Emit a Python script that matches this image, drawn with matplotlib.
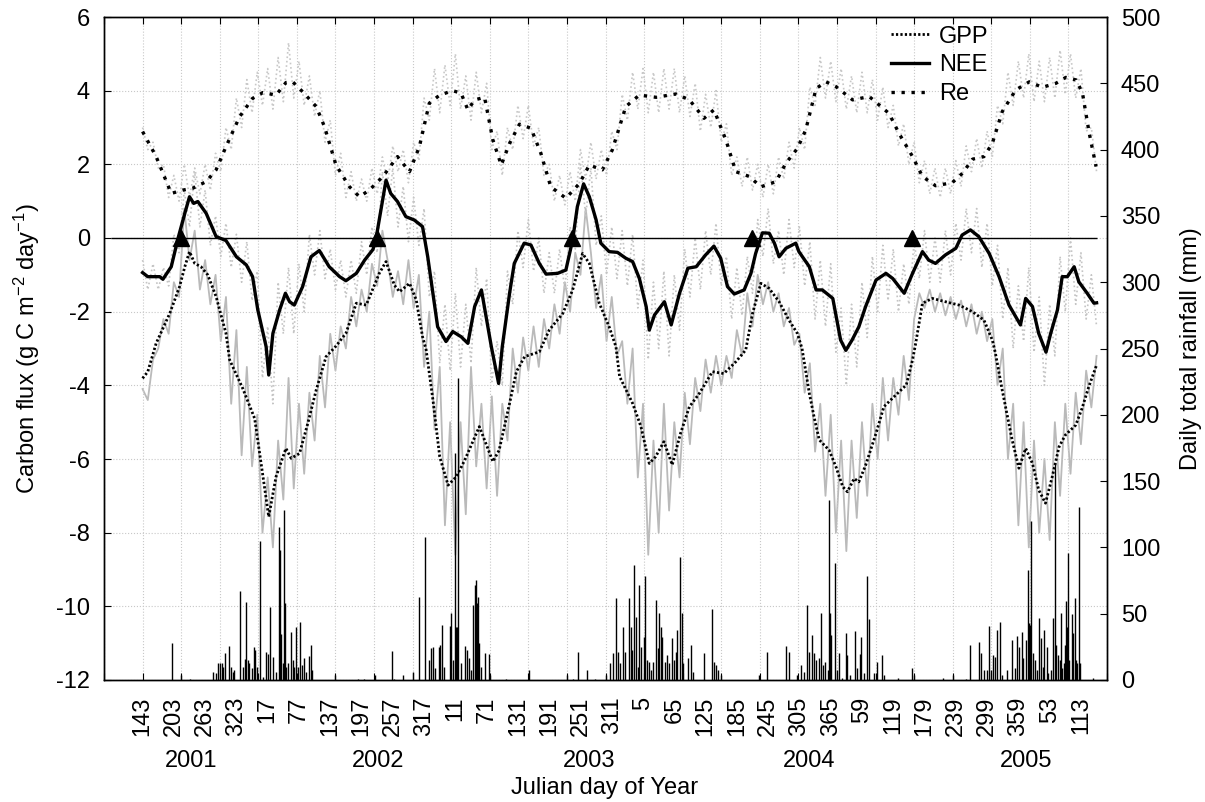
import numpy as np
import matplotlib
matplotlib.use("Agg")
import matplotlib.pyplot as plt
from matplotlib.lines import Line2D
from matplotlib.ticker import NullFormatter

plt.rcParams["font.family"] = ["Liberation Sans", "DejaVu Sans"]
plt.rcParams["mathtext.fontset"] = "custom"
plt.rcParams["mathtext.rm"] = "Liberation Sans"
plt.rcParams["mathtext.it"] = "Liberation Sans:italic"
plt.rcParams["axes.unicode_minus"] = False

# DATA  (x = day index, 0 = Julian day 143 of 2001)
# smoothed series, (day, flux g C m-2 day-1)
re_pts = [(0, 2.89), (26, 2.21), (55, 1.21), (77, 1.30), (96, 1.35), (122, 1.53), (141, 1.85), (160, 2.48),
          (186, 3.29), (211, 3.79), (231, 3.95), (256, 3.88), (275, 4.22), (288, 4.24), (307, 3.97), (333, 3.57),
          (349, 3.02), (371, 1.98), (397, 1.39), (416, 1.12), (435, 1.30), (461, 1.67), (489, 2.21), (512, 1.80),
          (531, 2.48), (550, 3.66), (570, 3.88), (595, 4.00), (611, 3.93), (624, 3.48), (637, 3.75), (656, 3.82),
          (672, 2.66), (688, 1.98), (704, 2.57), (723, 3.09), (745, 2.98), (764, 2.30), (783, 1.39), (812, 1.08),
          (838, 1.48), (857, 1.98), (882, 1.85), (901, 2.39), (927, 3.57), (953, 3.88), (985, 3.82), (1023, 3.91),
          (1049, 3.75), (1077, 3.25), (1096, 3.48), (1119, 2.66), (1138, 1.80), (1164, 1.67), (1186, 1.39),
          (1215, 1.53), (1234, 2.03), (1256, 2.43), (1272, 2.93), (1292, 4.06), (1311, 4.24), (1330, 4.11),
          (1362, 3.75), (1394, 3.84), (1413, 3.61), (1432, 3.38), (1451, 2.84), (1477, 2.21), (1496, 1.67),
          (1521, 1.42), (1553, 1.50), (1573, 1.76), (1592, 2.14), (1614, 2.21), (1630, 2.57), (1649, 3.43),
          (1675, 4.02), (1701, 4.24), (1726, 4.09), (1752, 4.20), (1771, 4.36), (1791, 4.29), (1803, 3.93),
          (1816, 2.84), (1829, 1.94)]

nee_pts = [(0, -0.94), (10, -1.05), (33, -1.05), (39, -1.12), (55, -0.78), (68, -0.01), (81, 0.67), (90, 1.12),
           (98, 0.94), (106, 0.99), (122, 0.67), (141, 0.04), (160, -0.07), (180, -0.51), (199, -0.73),
           (211, -1.05), (221, -1.95), (237, -2.95), (242, -3.72), (250, -2.59), (263, -1.95), (274, -1.50),
           (282, -1.73), (291, -1.82), (307, -1.32), (323, -0.51), (339, -0.34), (358, -0.78), (378, -1.05),
           (390, -1.16), (410, -0.96), (426, -0.60), (442, -0.31), (448, 0.0), (467, 1.57), (476, 1.21),
           (489, 0.99), (505, 0.58), (521, 0.49), (537, 0.31), (547, -0.51), (557, -1.50), (566, -2.41),
           (582, -2.81), (595, -2.54), (611, -2.68), (624, -2.86), (637, -1.86), (650, -1.41), (659, -2.14),
           (669, -2.95), (683, -3.95), (690, -2.95), (704, -1.50), (713, -0.69), (732, -0.14), (745, -0.19),
           (761, -0.69), (774, -0.98), (796, -0.96), (812, -0.87), (825, -0.05), (834, 0.85), (846, 1.47),
           (857, 1.12), (870, 0.49), (879, -0.14), (895, -0.37), (911, -0.39), (927, -0.55), (940, -0.64),
           (953, -1.10), (966, -1.86), (972, -2.50), (982, -2.09), (1001, -1.73), (1014, -2.36), (1030, -1.50),
           (1046, -0.82), (1062, -0.78), (1080, -0.46), (1096, -0.22), (1109, -0.55), (1122, -1.32),
           (1135, -1.52), (1154, -1.41), (1167, -0.96), (1176, -0.42), (1189, 0.14), (1202, 0.13), (1212, -0.14),
           (1221, -0.51), (1234, -0.28), (1253, -0.14), (1259, -0.37), (1279, -0.78), (1292, -1.41),
           (1304, -1.41), (1324, -1.64), (1339, -2.77), (1349, -3.05), (1361, -2.77), (1374, -2.41),
           (1387, -1.86), (1407, -1.14), (1426, -0.96), (1439, -1.10), (1461, -1.50), (1477, -0.96),
           (1496, -0.37), (1508, -0.60), (1521, -0.69), (1540, -0.46), (1560, -0.28), (1572, 0.08), (1588, 0.22),
           (1604, 0.04), (1624, -0.42), (1643, -1.05), (1662, -1.82), (1684, -2.36), (1694, -1.64),
           (1707, -1.86), (1719, -2.59), (1733, -3.10), (1742, -2.59), (1755, -1.95), (1764, -1.05),
           (1774, -1.05), (1787, -0.78), (1796, -1.19), (1812, -1.50), (1825, -1.77), (1830, -1.76)]

gpp_pts = [(0, -3.81), (10, -3.63), (26, -2.86), (52, -2.05), (71, -1.32), (81, -0.78), (90, -0.37), (100, -0.69),
           (112, -0.78), (125, -1.00), (141, -1.59), (160, -2.59), (167, -3.31), (192, -4.08), (215, -4.90),
           (231, -6.48), (242, -7.57), (256, -6.48), (275, -5.71), (285, -5.98), (301, -5.85), (317, -5.03),
           (333, -4.13), (352, -3.22), (370, -2.95), (390, -2.59), (410, -1.77), (429, -1.82), (454, -0.96),
           (467, -0.64), (483, -1.28), (493, -1.46), (512, -1.23), (525, -1.68), (537, -2.68), (544, -3.04),
           (557, -4.40), (570, -5.94), (586, -6.71), (602, -6.48), (618, -6.03), (646, -5.12), (672, -6.07),
           (684, -5.76), (704, -4.49), (717, -3.63), (733, -3.22), (761, -3.09), (780, -2.50), (806, -2.05),
           (825, -1.41), (844, -0.42), (857, -0.69), (876, -1.77), (895, -2.41), (908, -2.95), (915, -3.76),
           (940, -4.49), (956, -5.12), (972, -6.12), (984, -5.94), (1000, -5.53), (1016, -6.16), (1032, -5.30),
           (1049, -4.58), (1068, -4.22), (1093, -3.63), (1115, -3.68), (1138, -3.36), (1157, -3.04),
           (1170, -2.05), (1186, -1.23), (1202, -1.37), (1221, -1.73), (1240, -2.23), (1256, -2.59),
           (1265, -3.00), (1279, -4.22), (1288, -4.85), (1298, -5.48), (1317, -5.76), (1330, -6.21),
           (1343, -6.75), (1352, -6.89), (1365, -6.53), (1374, -6.62), (1387, -6.17), (1407, -5.30),
           (1422, -4.58), (1445, -4.26), (1465, -3.99), (1477, -3.31), (1483, -2.86), (1496, -1.77),
           (1515, -1.64), (1540, -1.73), (1566, -1.82), (1592, -2.00), (1614, -2.23), (1630, -2.77),
           (1636, -3.13), (1649, -4.13), (1668, -5.48), (1681, -6.25), (1694, -5.71), (1707, -6.12),
           (1719, -6.84), (1732, -7.20), (1745, -6.48), (1758, -5.67), (1770, -5.35), (1790, -5.08),
           (1802, -4.63), (1815, -4.04), (1830, -3.45)]

# daily (raw) fluxes, one value every 10 days from day index 0
raw_gpp = [-4.1, -4.4, -3.3, -3.0, -2.2, -2.6, -1.2, -1.6, 0.8, -0.6,
           0.2, -1.4, -0.6, -1.8, -1.0, -2.8, -1.6, -4.5, -2.5, -5.9,
           -3.5, -6.2, -4.8, -8.0, -6.5, -8.4, -5.5, -7.1, -3.8, -6.8,
           -4.5, -6.4, -4.2, -5.5, -3.2, -4.6, -2.6, -3.6, -2.4, -3.0,
           -1.6, -2.4, -1.4, -2.0, -0.7, -1.3, 0.2, -0.6, -1.6, -0.9,
           -1.8, -0.6, -1.9, -1.0, -3.5, -2.0, -5.2, -3.5, -7.8, -5.0,
           -8.6, -5.0, -7.5, -3.5, -6.2, -4.5, -6.8, -4.3, -7.0, -4.5,
           -5.5, -3.0, -4.2, -2.7, -3.6, -2.4, -3.5, -2.2, -3.0, -1.8,
           -2.6, -1.2, -2.0, -0.4, -1.0, 0.8, -0.4, -1.9, -1.0, -2.8,
           -1.6, -3.2, -2.8, -4.5, -3.0, -6.5, -4.5, -8.6, -5.5, -8.0,
           -4.5, -7.4, -5.0, -6.5, -4.2, -5.6, -3.8, -4.7, -3.3, -4.2,
           -3.2, -4.0, -3.2, -3.8, -2.5, -3.2, -1.5, -2.4, -1.0, -1.8,
           -1.2, -2.0, -1.5, -2.4, -1.9, -2.9, -2.6, -4.2, -3.4, -5.8,
           -4.5, -7.0, -4.8, -8.0, -5.5, -8.5, -5.5, -7.6, -5.0, -7.0,
           -4.5, -6.0, -3.8, -5.5, -3.8, -4.8, -3.2, -4.4, -2.2, -1.5,
           -1.9, -1.4, -2.0, -1.5, -2.1, -1.6, -2.2, -1.7, -2.4, -1.8,
           -2.6, -2.0, -2.8, -2.2, -4.0, -3.0, -6.0, -4.5, -7.8, -5.0,
           -8.4, -5.5, -8.0, -6.0, -8.2, -5.0, -7.0, -4.5, -6.4, -4.2,
           -5.6, -3.6, -4.6, -3.2]

raw_nee = [-0.6, -1.4, -0.7, -1.4, -0.8, -1.3, 0.1, -0.4, 1.3, 0.3,
           1.8, 0.3, 1.3, -0.2, 0.6, -0.5, 0.4, -0.8, 0.1, -1.2,
           -0.1, -1.7, -0.9, -3.8, -2.4, -4.5, -1.2, -2.6, -0.8, -2.6,
           -0.7, -2.0, 0.1, -1.0, 0.2, -1.1, -0.3, -1.4, -0.6, -1.6,
           -0.6, -1.5, -0.1, -1.0, 0.3, -0.4, 1.8, 0.6, 1.9, 0.3,
           1.4, -0.1, 1.1, -0.2, 0.8, -1.6, -0.9, -3.4, -1.8, -3.6,
           -1.5, -3.5, -1.8, -3.4, -0.8, -2.4, -1.1, -3.9, -2.8, -4.0,
           -0.9, -1.8, 0.2, -0.8, 0.5, -0.9, 0.0, -1.5, -0.4, -1.5,
           -0.3, -1.4, 0.3, -0.3, 2.0, 0.6, 1.9, -0.2, 0.6, -1.0,
           0.3, -1.1, 0.2, -1.3, 0.1, -1.9, -0.6, -3.3, -1.2, -3.0,
           -0.9, -3.2, -1.0, -2.5, -0.3, -1.6, 0.0, -1.4, 0.2, -1.0,
           0.4, -1.3, -0.5, -2.2, -0.8, -2.1, -0.5, -1.5, 0.5, -0.5,
           0.8, -0.7, 0.2, -1.0, 0.5, -0.8, 0.3, -1.3, -0.1, -2.2,
           -0.6, -2.4, -0.7, -3.1, -1.9, -4.0, -1.8, -3.5, -1.2, -2.7,
           -0.5, -2.0, -0.2, -1.7, -0.3, -2.0, -0.7, -1.8, -0.1, -1.1,
           0.2, -1.2, 0.0, -1.2, 0.2, -1.0, 0.4, -0.6, 0.8, -0.4,
           0.8, -0.8, 0.4, -1.3, -0.2, -2.2, -0.8, -3.0, -1.3, -2.8,
           -0.8, -3.1, -1.6, -4.0, -1.8, -3.2, -0.5, -2.0, 0.0, -1.8,
           -0.4, -2.2, -1.0, -2.4]

raw_re = [3.0, 2.4, 2.6, 1.9, 2.0, 1.1, 1.7, 1.0, 2.0, 1.1,
          1.9, 1.2, 2.0, 1.3, 2.3, 1.8, 3.0, 2.4, 3.8, 3.0,
          4.3, 3.4, 4.5, 3.6, 4.6, 3.5, 4.9, 3.7, 5.3, 3.8,
          4.8, 3.6, 4.4, 3.3, 4.0, 2.6, 3.2, 1.7, 2.3, 1.1,
          1.8, 1.0, 1.6, 1.0, 1.9, 1.2, 2.2, 1.5, 2.5, 1.8,
          2.4, 1.5, 2.6, 2.1, 3.8, 3.2, 4.6, 3.4, 4.7, 3.6,
          5.0, 3.5, 4.4, 3.2, 4.5, 3.4, 4.2, 2.4, 2.9, 1.7,
          3.0, 2.4, 3.6, 2.7, 3.6, 2.5, 3.0, 1.7, 2.0, 1.0,
          1.7, 0.9, 1.8, 1.0, 2.4, 1.6, 2.6, 1.6, 2.4, 1.7,
          2.9, 2.4, 3.9, 3.2, 4.5, 3.5, 4.6, 3.4, 4.5, 3.4,
          4.6, 3.5, 4.6, 3.4, 4.4, 3.3, 4.2, 2.9, 3.9, 3.0,
          4.0, 2.6, 3.1, 1.7, 2.2, 1.4, 2.2, 1.3, 2.0, 1.1,
          2.0, 1.2, 2.2, 1.6, 2.6, 1.9, 3.0, 2.4, 4.1, 3.6,
          4.9, 3.8, 4.8, 3.7, 4.6, 3.5, 4.4, 3.4, 4.5, 3.4,
          4.3, 3.2, 4.1, 3.0, 3.6, 2.5, 3.1, 2.0, 2.6, 1.5,
          2.1, 1.2, 1.9, 1.1, 1.9, 1.2, 2.1, 1.4, 2.5, 1.8,
          2.7, 1.9, 2.9, 2.2, 3.6, 3.1, 4.5, 3.6, 4.8, 3.8,
          5.0, 3.7, 4.8, 3.7, 4.9, 3.8, 5.1, 3.9, 5.0, 3.8,
          4.6, 2.9, 3.0, 1.8]

# daily rainfall events (day index, mm)
rain_events = [(56, 27.6), (74, 4), (91, 1), (136, 6), (140, 5), (144, 12.6), (149, 12.6), (152, 12.6), (155, 10),
               (159, 20.6), (165, 25.6), (170, 10), (173, 6), (176, 7.5), (187, 67), (192, 10), (196, 16),
               (199, 58.5), (203, 15), (205, 12.6), (210, 9), (213, 24.6), (215, 22.6), (219, 10), (226, 104.8),
               (231, 2.5), (237, 21), (241, 19.6), (244, 54.8), (250, 17.6), (255, 6), (261, 115.6), (264, 98),
               (266, 35), (269, 12.6), (272, 128), (273, 57.8), (275, 10), (279, 12.6), (285, 36.4), (288, 15),
               (291, 10), (295, 40), (298, 10), (302, 44), (306, 11.3), (309, 16.3), (314, 6), (320, 18),
               (323, 26.4), (325, 7.5), (370, 3.8), (413, 1), (424, 1), (445, 3.8), (479, 22), (483, 1),
               (499, 3.8), (519, 6), (531, 62.8), (542, 107.6), (549, 15), (554, 24), (557, 25), (561, 9),
               (568, 25), (571, 26.4), (574, 41.5), (578, 10), (589, 40.7), (592, 50.3), (595, 15), (599, 171),
               (601, 40), (603, 40), (606, 228), (610, 12.6), (619, 25.6), (623, 22.6), (627, 16.3), (630, 7.5),
               (633, 56.5), (637, 71.6), (639, 75.4), (641, 57.8), (643, 62.3), (646, 27.6), (649, 10),
               (656, 20.6), (664, 19.6), (667, 3.8), (698, 1), (742, 7.5),
               (814, 3.8), (825, 1), (836, 21), (852, 7.5), (868, 1), (889, 3.8), (896, 12.6), (902, 20),
               (908, 61.6), (912, 21), (916, 12.6), (921, 40), (926, 21), (933, 61.6), (936, 40), (939, 22.6),
               (943, 86.7), (947, 47.7), (950, 10), (953, 71.6), (957, 25), (961, 32.7), (964, 78.4), (967, 15),
               (971, 13.8), (975, 7.5), (980, 13.8), (984, 60.3), (988, 24), (991, 50.3), (994, 40), (997, 32.7),
               (1002, 13.8), (1006, 18.8), (1009, 12.6), (1015, 31.4), (1020, 15), (1024, 21), (1026, 37.7),
               (1031, 92.5), (1034, 50.3), (1037, 12.6), (1046, 16.3), (1052, 26.4), (1055, 6), (1077, 20.6),
               (1092, 53.5), (1097, 13.8), (1100, 11.3), (1103, 7.5), (1109, 3.8),
               (1183, 3.8), (1197, 21), (1235, 25.6), (1240, 21), (1256, 3.8), (1263, 11.3), (1269, 6),
               (1275, 56.5), (1279, 21), (1285, 34), (1288, 20), (1291, 15), (1297, 16.3), (1302, 50.3),
               (1305, 11.3), (1309, 13.8), (1314, 7.5), (1317, 136), (1319, 50.3), (1321, 34), (1328, 88.5),
               (1332, 7.5), (1336, 20), (1342, 1.3), (1349, 35.7), (1352, 18.8), (1357, 3.8), (1366, 37),
               (1370, 9), (1376, 19.6), (1378, 32.7), (1383, 5), (1390, 78.4), (1393, 45.7), (1403, 5),
               (1408, 13.8), (1419, 18.8), (1423, 3.8), (1450, 1.3), (1476, 9), (1480, 3.8),
               (1536, 1.3), (1554, 3.8), (1579, 0.5), (1587, 26.4), (1604, 29), (1608, 20), (1614, 7.5),
               (1619, 7.5), (1623, 40.7), (1628, 7.5), (1631, 18.8), (1635, 17.6), (1639, 37.7), (1644, 44),
               (1649, 3.8), (1659, 7.5), (1668, 30), (1673, 9), (1678, 33), (1682, 25), (1686, 36.4),
               (1689, 16.3), (1694, 30), (1698, 83), (1700, 42.7), (1703, 41.5), (1705, 120), (1708, 20),
               (1712, 15), (1716, 7.5), (1720, 46.5), (1723, 31.4), (1728, 10), (1730, 37.7), (1734, 25),
               (1737, 5), (1742, 7.5), (1747, 46.5), (1750, 164), (1753, 26.4), (1756, 18.8), (1759, 15),
               (1762, 50.3), (1764, 9), (1767, 12.6), (1770, 26.4), (1772, 59.8), (1774, 40), (1776, 95.5),
               (1778, 15), (1782, 49.5), (1785, 35.2), (1788, 61.6), (1790, 15), (1793, 12.6), (1796, 130.7),
               (1799, 12.6), (1823, 1.3)]

# start of carbon uptake season markers
onset_day = [74, 450, 824, 1169, 1476]

tick_labels = ["143", "203", "263", "323", "17", "77", "137", "197", "257", "317", "11", "71", "131",
               "191", "251", "311", "5", "65", "125", "185", "245", "305", "365", "59", "119", "179",
               "239", "299", "359", "53", "113"]
year_labels = ["2001", "2002", "2003", "2004", "2005"]
year_pos = [93, 451, 857, 1278, 1694]

# VIZ
FS = 17
GPP_LS = (0, (0.8, 0.8))
RE_LS = (0, (1.0, 2.0))

fig = plt.figure(figsize=(12.05, 8.02), dpi=100)
ax = fig.add_axes([104 / 1205, 1 - 680 / 802, 1003 / 1205, 663 / 802])

re_day, re_flux = zip(*re_pts)
nee_day, nee_flux = zip(*nee_pts)
gpp_day, gpp_flux = zip(*gpp_pts)

# raw daily fluxes in grey
ax.plot(np.arange(len(raw_gpp)) * 10, raw_gpp, color="#bababa", lw=1.3, zorder=1)
ax.plot(np.arange(len(raw_nee)) * 10, raw_nee, color="#c4c4c4", lw=1.2, ls=":", zorder=1)
ax.plot(np.arange(len(raw_re)) * 10, raw_re, color="#c8c8c8", lw=1.2, ls=":", zorder=1)

ax.hlines(0, -60, 1830, color="black", lw=1.0, zorder=3)

ax.plot(gpp_day, gpp_flux, color="black", lw=2.0, ls=GPP_LS, zorder=4)
ax.plot(nee_day, nee_flux, color="black", lw=2.4, zorder=5)
ax.plot(re_day, re_flux, color="black", lw=2.4, ls=RE_LS, zorder=5)
ax.plot(onset_day, [0] * len(onset_day), "^", color="black", ms=11, zorder=6)

ax.set_xlim(-74, 1850)
ax.set_ylim(-12, 6)
ax.set_yticks(range(-12, 7, 2))
ax.xaxis.remove_overlapping_locs = False
ax.set_xticks(range(-74, 1851, 74))
ax.xaxis.set_major_formatter(NullFormatter())
ax.set_xticks([60 * k for k in range(len(tick_labels))], minor=True)
ax.set_xticklabels(tick_labels, minor=True)
ax.tick_params(axis="x", which="major", direction="in", top=True, bottom=True, length=5, width=0.8)
ax.tick_params(axis="x", which="minor", length=0, pad=12, labelsize=FS, labelrotation=90)
ax.tick_params(axis="y", direction="in", length=5, width=0.8, pad=10, labelsize=FS)
ax.grid(True, which="major", color="#c8c8c8", ls=":", lw=0.8)

ax.set_ylabel("Carbon flux (g C m$^{-2}$ day$^{-1}$)", fontsize=FS)
ax.yaxis.set_label_coords(-0.062, 0.5)

for lab, pos in zip(year_labels, year_pos):
    ax.text(pos, -0.122, lab, transform=ax.get_xaxis_transform(), ha="center", va="center", fontsize=FS)
fig.text(605 / 1205, 1 - 788 / 802, "Julian day of Year", ha="center", va="center", fontsize=FS)

# rainfall on right axis
ax2 = ax.twinx()
rain_day, rain_mm = zip(*rain_events)
ax2.vlines(rain_day, 0, rain_mm, color="black", lw=1.0)
ax2.set_ylim(0, 500)
ax2.set_yticks(range(0, 501, 50))
ax2.tick_params(axis="y", direction="in", length=5, width=0.8, pad=10, labelsize=FS)
ax2.set_ylabel("Daily total rainfall (mm)", fontsize=FS)
ax2.yaxis.set_label_coords(1.073, 0.5)

handles = [Line2D([], [], color="black", lw=2.0, ls=GPP_LS),
           Line2D([], [], color="black", lw=2.4),
           Line2D([], [], color="black", lw=2.4, ls=RE_LS)]
ax2.legend(handles, ["GPP", "NEE", "Re"], loc="upper left", bbox_to_anchor=(0.768, 1.012), frameon=False,
           fontsize=FS, handlelength=1.6, handletextpad=0.45, labelspacing=0.28, borderpad=0.2)

for a in (ax, ax2):
    for s in a.spines.values():
        s.set_linewidth(1.0)

fig.savefig("out.png", dpi=100)
